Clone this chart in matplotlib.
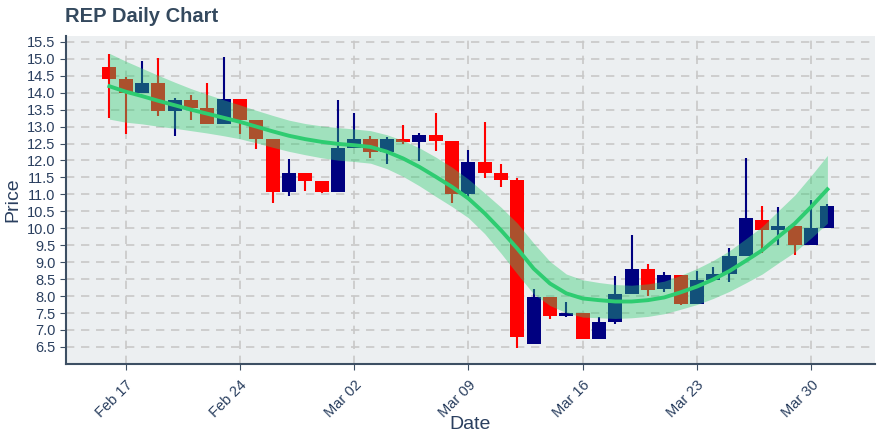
import datetime as dt
import matplotlib
matplotlib.use("Agg")
import matplotlib.pyplot as plt
import matplotlib.dates as mdates

plt.rcParams['font.family'] = ['Liberation Sans', 'DejaVu Sans']

start = dt.date(2020, 2, 16)
dates = [start + dt.timedelta(days=i) for i in range(45)]

opens = [14.75, 14.40, 13.98, 14.29, 13.46, 13.78, 13.54, 13.08, 13.81, 13.19,
         12.64, 11.08, 11.62, 11.40, 11.08, 12.37, 12.63, 12.26, 12.63, 12.55,
         12.75, 12.57, 11.02, 11.95, 11.63, 11.42, 6.59, 7.98, 7.42, 7.49,
         6.74, 7.24, 8.07, 8.79, 8.21, 8.62, 7.76, 8.47, 8.65, 9.18,
         10.24, 9.94, 10.06, 9.51, 10.00]
closes = [14.40, 13.98, 14.29, 13.46, 13.78, 13.54, 13.08, 13.81, 13.19, 12.64,
          11.08, 11.62, 11.40, 11.08, 12.37, 12.63, 12.26, 12.63, 12.55, 12.75,
          12.58, 11.02, 11.95, 11.64, 11.43, 6.80, 7.98, 7.41, 7.50, 6.74,
          7.23, 8.06, 8.79, 8.18, 8.62, 7.76, 8.47, 8.65, 9.18, 10.30,
          9.94, 10.06, 9.51, 10.00, 10.65]
highs = [15.14, 14.45, 14.93, 15.03, 13.83, 13.93, 14.29, 15.06, 13.81, 13.19,
         12.64, 12.04, 11.62, 11.40, 13.78, 13.41, 12.72, 12.70, 13.06, 12.81,
         13.40, 12.57, 12.32, 13.14, 11.91, 11.49, 8.21, 7.98, 7.83, 7.49,
         7.39, 8.59, 9.80, 8.96, 8.70, 8.62, 8.74, 8.86, 9.42, 12.07,
         10.65, 10.63, 10.06, 10.83, 10.73]
lows = [13.24, 12.78, 13.98, 13.31, 12.72, 13.19, 13.08, 13.08, 12.78, 12.33,
        10.75, 10.94, 11.09, 11.03, 11.08, 12.37, 12.08, 11.89, 12.50, 11.99,
        12.28, 10.75, 10.83, 11.49, 11.22, 6.48, 6.59, 7.33, 7.37, 6.72,
        6.74, 7.17, 8.07, 8.01, 8.12, 7.74, 7.76, 8.47, 8.42, 9.18,
        9.26, 9.50, 9.20, 9.51, 10.00]

trend = [14.19, 14.03, 13.90, 13.76, 13.63, 13.50, 13.38, 13.26, 13.14, 13.00,
         12.86, 12.73, 12.63, 12.55, 12.49, 12.45, 12.40, 12.26, 12.06, 11.81,
         11.52, 11.22, 10.88, 10.44, 9.94, 9.40, 8.81, 8.37, 8.08, 7.93,
         7.88, 7.84, 7.84, 7.88, 7.96, 8.11, 8.28, 8.49, 8.74, 9.04,
         9.35, 9.75, 10.14, 10.63, 11.15]
band = [0.97, 0.90, 0.82, 0.75, 0.68, 0.62, 0.57, 0.53, 0.50, 0.48,
        0.47, 0.46, 0.46, 0.47, 0.48, 0.48, 0.48, 0.50, 0.53, 0.56,
        0.58, 0.58, 0.57, 0.60, 0.68, 0.75, 0.75, 0.65, 0.57, 0.55,
        0.52, 0.50, 0.48, 0.48, 0.48, 0.50, 0.53, 0.56, 0.60, 0.65,
        0.70, 0.77, 0.84, 0.92, 1.00]

x = mdates.date2num(dates)
up_col = '#000080'
down_col = '#ff0000'
green = '#2ecc71'

fig = plt.figure(figsize=(8.8, 4.4), dpi=100)
ax = fig.add_axes([0.075, 0.173, 0.919, 0.745])
ax.set_facecolor('#eceff1')

# candles: wicks then bodies
cols = [up_col if c >= o else down_col for o, c in zip(opens, closes)]
bottoms = [min(o, c) for o, c in zip(opens, closes)]
heights = [max(abs(c - o), 0.04) for o, c in zip(opens, closes)]
ax.vlines(x, lows, highs, colors=cols, linewidth=1.5, zorder=2)
ax.bar(x, heights, bottom=bottoms, width=0.86, color=cols, zorder=2)

# trend line with band drawn on top
lower = [t - b for t, b in zip(trend, band)]
upper = [t + b for t, b in zip(trend, band)]
ax.fill_between(x, lower, upper, color=green, alpha=0.4, linewidth=0, zorder=3)
ax.plot(x, trend, color=green, linewidth=2.8, zorder=4)

ax.set_ylim(6.0, 15.67)
ax.set_yticks([6.5 + 0.5 * i for i in range(19)])
ax.set_xlim(mdates.date2num(dt.date(2020, 2, 13)) + 0.34,
            mdates.date2num(dt.date(2020, 4, 2)) + 0.9)
ticks = [dt.date(2020, 2, 17) + dt.timedelta(days=7 * i) for i in range(7)]
ax.set_xticks(mdates.date2num(ticks))
ax.set_xticklabels([d.strftime('%b %d') for d in ticks], rotation=45,
                   ha='right', rotation_mode='anchor')

ax.grid(True, color='#c8c8c8', linestyle='--', linewidth=1.2, dashes=(5, 4))
ax.set_axisbelow(True)
for s in ['top', 'right']:
    ax.spines[s].set_visible(False)
for s in ['left', 'bottom']:
    ax.spines[s].set_color('#3d4f63')
    ax.spines[s].set_linewidth(1.5)
ax.tick_params(axis='both', colors='#3d4f63', labelcolor='#2a3f5f',
               labelsize=10.5, length=4)
ax.tick_params(axis='x', pad=6)

ax.set_xlabel('Date', fontsize=14, color='#2a3f5f', labelpad=-3)
ax.set_ylabel('Price', fontsize=14, color='#2a3f5f')
fig.text(0.074, 0.962, 'REP Daily Chart', fontsize=14.5, fontweight='bold',
         color='#34495e', va='center')

fig.savefig('out.png', dpi=100)
